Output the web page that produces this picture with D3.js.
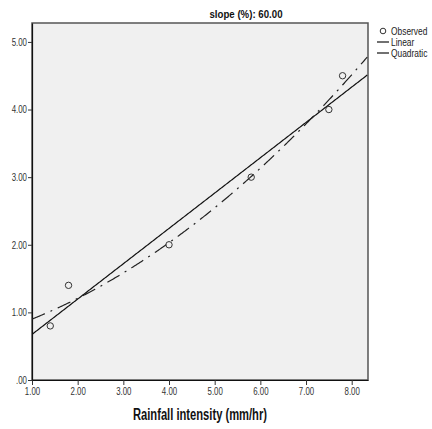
<!DOCTYPE html>
<html lang="en">
<head>
  <meta charset="UTF-8" />
  <title>slope (%): 60.00</title>
  <script src="https://d3js.org/d3.v7.min.js"></script>
  <style>
    body { margin: 0; padding: 0; background: #fff; }
    svg { display: block; font-family: "Liberation Sans", Arial, sans-serif; }
    .tick text { font-size: 10.5px; fill: #333; }
    .legend text { font-size: 10px; fill: #222; }
  </style>
</head>
<body>
  <svg id="chart" width="432" height="429"></svg>
  <script>
    // values
    const xTicks = [1, 2, 3, 4, 5, 6, 7, 8];
    const yTicks = [0, 1, 2, 3, 4, 5];
    const obsX = [1.4, 1.8, 4.0, 5.8, 7.5, 7.8];
    const obsY = [0.8, 1.4, 2.0, 3.0, 4.0, 4.5];
    const linearCoef = [0.152, 0.5225];          // b0, b1
    const quadCoef = [0.664, 0.202, 0.0349];     // b0, b1, b2
    const legendItems = ["Observed", "Linear", "Quadratic"];

    const svg = d3.select("#chart");
    const pL = 32, pR = 368, pT = 23, pB = 380;
    const narrow = 0.75; // SPSS uses a condensed face, squeeze the text

    const x = d3.scaleLinear().domain([1, 8.357]).range([pL, pR]);
    const y = d3.scaleLinear().domain([0, 5.28]).range([pB, pT]);

    // plot background + frame
    svg.append("rect")
      .attr("x", pL).attr("y", pT)
      .attr("width", pR - pL).attr("height", pB - pT)
      .attr("fill", "#f0f0f0")
      .attr("stroke", "#555").attr("stroke-width", 1.5);

    svg.append("defs").append("clipPath").attr("id", "clip")
      .append("rect").attr("x", pL).attr("y", pT)
      .attr("width", pR - pL).attr("height", pB - pT);

    const fmt = d => d === 0 ? ".00" : d3.format(".2f")(d);

    const xAxis = svg.append("g")
      .attr("transform", `translate(0,${pB})`)
      .call(d3.axisBottom(x).tickValues(xTicks).tickFormat(fmt).tickSize(5).tickPadding(3).tickSizeOuter(0));
    const yAxis = svg.append("g")
      .attr("transform", `translate(${pL},0)`)
      .call(d3.axisLeft(y).tickValues(yTicks).tickFormat(fmt).tickSize(4).tickPadding(1).tickSizeOuter(0));
    [xAxis, yAxis].forEach(a => {
      a.attr("font-family", null).attr("font-size", null);
      a.select(".domain").attr("stroke", "#111").attr("stroke-width", 1.2);
      a.selectAll(".tick line").attr("stroke", "#333");
    });
    xAxis.selectAll(".tick text").attr("transform", `scale(${narrow},1)`);
    yAxis.selectAll(".tick text").attr("x", -5 / narrow).attr("transform", `scale(${narrow},1)`);

    const plot = svg.append("g").attr("clip-path", "url(#clip)");
    const xs = d3.range(1, 8.36, 0.02);

    const line = d3.line().x(d => x(d[0])).y(d => y(d[1]));
    plot.append("path")
      .datum(xs.map(v => [v, linearCoef[0] + linearCoef[1] * v]))
      .attr("d", line)
      .attr("fill", "none").attr("stroke", "#111").attr("stroke-width", 1.2);

    plot.append("path")
      .datum(xs.map(v => [v, quadCoef[0] + quadCoef[1] * v + quadCoef[2] * v * v]))
      .attr("d", line)
      .attr("fill", "none").attr("stroke", "#222").attr("stroke-width", 1.2)
      .attr("stroke-dasharray", "14,6,2,6");

    plot.selectAll("circle.obs")
      .data(obsX.map((v, i) => [v, obsY[i]]))
      .enter().append("circle")
      .attr("class", "obs")
      .attr("cx", d => x(d[0])).attr("cy", d => y(d[1]))
      .attr("r", 3.2)
      .attr("fill", "none").attr("stroke", "#333").attr("stroke-width", 1);

    // title and axis label
    svg.append("text")
      .attr("x", 246).attr("y", 18)
      .attr("text-anchor", "middle")
      .attr("font-size", 11.5).attr("font-weight", "bold").attr("fill", "#111")
      .attr("textLength", 73).attr("lengthAdjust", "spacingAndGlyphs")
      .text("slope (%): 60.00");

    svg.append("text")
      .attr("x", (pL + pR) / 2).attr("y", 420)
      .attr("text-anchor", "middle")
      .attr("font-size", 16).attr("font-weight", "bold").attr("fill", "#111")
      .attr("textLength", 134).attr("lengthAdjust", "spacingAndGlyphs")
      .text("Rainfall intensity (mm/hr)");

    // legend
    const lg = svg.append("g").attr("class", "legend");
    legendItems.forEach((name, i) => {
      const ly = 31 + i * 11;
      if (i === 0) {
        lg.append("circle").attr("cx", 383).attr("cy", ly).attr("r", 2.8)
          .attr("fill", "none").attr("stroke", "#333");
      } else {
        lg.append("line").attr("x1", 377).attr("x2", 389).attr("y1", ly).attr("y2", ly)
          .attr("stroke", "#111").attr("stroke-width", 1.2);
      }
      lg.append("text")
        .attr("transform", `translate(391,${ly + 3.5}) scale(0.84,1)`)
        .text(name);
    });
  </script>
</body>
</html>
